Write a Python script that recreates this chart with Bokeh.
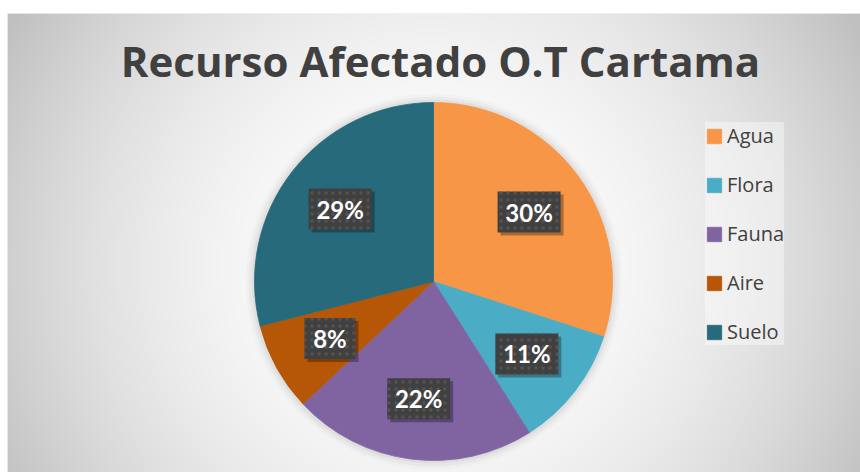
import numpy as np
from bokeh.plotting import figure
from bokeh.models import Range1d, Legend, LegendItem, ColumnDataSource
from bokeh.core.properties import value
from bokeh.embed import file_html
from bokeh.resources import INLINE

title_text = "Recurso Afectado O.T Cartama"
categories = ["Agua", "Flora", "Fauna", "Aire", "Suelo"]
percent = [30, 11, 22, 8, 29]
colors = ["#F79646", "#4BACC6", "#8064A2", "#B65708", "#266A7B"]

PW, PH = 860, 472
LEFT, TOP = 7, 13
W, H = PW - LEFT, PH - TOP

p = figure(width=PW, height=PH, output_backend="svg", toolbar_location=None,
           x_range=Range1d(LEFT, PW), y_range=Range1d(0, H),
           min_border_left=LEFT, min_border_right=0, min_border_top=TOP, min_border_bottom=0)
p.axis.visible = False
p.grid.visible = False
p.outline_line_color = None
p.border_fill_color = "white"
p.background_fill_color = "#e8e8e8"

def sy(y):
    # screen y -> data y
    return PH - y

# radial gradient background (decoration)
cx_s, cy_s = 433 - LEFT, sy(265)
yy, xx = np.mgrid[0:H, 0:W]
d = np.sqrt((xx + 0.5 - cx_s) ** 2 + (yy + 0.5 - cy_s) ** 2) / 426.0
g = np.clip(255 - 48 * d ** 2, 192, 255).astype(np.uint32)
img = (255 << 24) | (g << 16) | (g << 8) | g
p.image_rgba(image=[img.astype(np.uint32)], x=LEFT, y=0, dw=W, dh=H)

# pie geometry
CX, CY, R = 433, sy(281), 179
total = float(sum(percent))
fr = [v / total for v in percent]
cum = np.concatenate([[0.0], np.cumsum(fr)])
start = [np.pi / 2 - 2 * np.pi * cum[i] for i in range(len(fr))]
end = [np.pi / 2 - 2 * np.pi * cum[i + 1] for i in range(len(fr))]

# soft halo
for k, a in [(9, 0.02), (6, 0.03), (3, 0.04)]:
    p.circle(x=[CX], y=[CY], radius=R + k, fill_color="black", fill_alpha=a, line_color=None)

src = ColumnDataSource(dict(cat=categories, start=start, end=end, color=colors))
wr = p.wedge(x=CX, y=CY, radius=R, start_angle="start", end_angle="end", direction="clock",
             fill_color="color", line_color="color", line_width=0.8, source=src)

# data labels
labels = ["%d%%" % round(f * 100) for f in fr]
mid = [np.pi / 2 - 2 * np.pi * (cum[i] + fr[i] / 2) for i in range(len(fr))]
lx = [CX + 0.66 * R * np.cos(m) for m in mid]
ly = [CY + 0.66 * R * np.sin(m) for m in mid]
bw = [27 + 12 * len(t) for t in labels]
p.rect(x=[v + 3 for v in lx], y=[v - 3 for v in ly], width=bw, height=41,
       width_units="screen", height_units="screen", fill_color="black", fill_alpha=0.3, line_color=None)
p.rect(x=lx, y=ly, width=bw, height=41, width_units="screen", height_units="screen",
       fill_color="#404040", line_color=None, hatch_pattern="dot", hatch_color="#535353",
       hatch_scale=7, hatch_weight=1.5)
p.text(x=lx, y=ly, text=labels, text_align="center", text_baseline="middle",
       text_color="white", text_font=value("Lato"), text_font_style="bold", text_font_size="24px")

# title
p.text(x=[440], y=[sy(60)], text=[title_text], text_align="center", text_baseline="alphabetic",
       text_color="#404040", text_font=value("Open Sans"), text_font_style="bold", text_font_size="42px")

# legend
items = [LegendItem(label=c, renderers=[wr], index=i) for i, c in enumerate(categories)]
leg = Legend(items=items, location=(705 - LEFT, PH - 345), orientation="vertical",
             glyph_width=18, glyph_height=18, label_height=20, spacing=22, padding=12,
             label_standoff=4, label_text_font="Open Sans", label_text_font_size="20px",
             label_text_color="#404040", background_fill_color="white", background_fill_alpha=0.4,
             border_line_color=None, margin=0)
p.add_layout(leg, "center")

open("out.html", "w").write(file_html(p, INLINE))
